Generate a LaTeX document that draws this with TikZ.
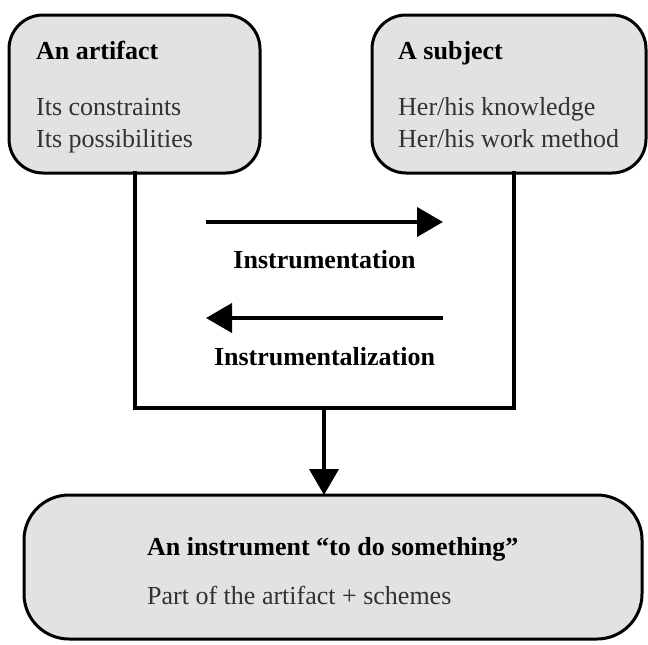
\documentclass[tikz,border=0pt]{standalone}
\usepackage{fontspec}
\setmainfont{Liberation Serif}
\usetikzlibrary{arrows.meta}
\definecolor{boxfill}{RGB}{226,226,226}
\definecolor{inktext}{RGB}{50,50,50}
\begin{document}
\begin{tikzpicture}[x=1pt,y=-1pt,
  panel/.style={draw=black, line width=3pt, fill=boxfill, rounded corners=#1,
    inner sep=0pt, outer sep=0pt},
  panel/.default=34pt,
  head/.style={anchor=base west, inner sep=0pt, font=\fontsize{26}{32}\selectfont\bfseries},
  body/.style={anchor=base west, inner sep=0pt, text=inktext,
    font=\fontsize{26}{32}\selectfont},
  label/.style={anchor=base, inner sep=0pt, font=\fontsize{26}{32}\selectfont\bfseries},
  link/.style={line width=4pt},
  bigarrow/.style={line width=4pt, -{Triangle[length=26pt,width=29pt]}}
]
\useasboundingbox (0,0) rectangle (648,645);

% upper boxes
\node[panel, minimum width=251pt, minimum height=158pt] (artifact) at (134.5,94) {};
\node[panel, minimum width=274pt, minimum height=158pt] (subject) at (509,94) {};
% lower box
\node[panel=45pt, minimum width=618pt, minimum height=144pt] (instrument) at (333,567) {};

% texts of the artifact box
\node[head] (artTitle) at (36,59) {An artifact};
\node[body] (artC) at (36,115) {Its constraints};
\node[body] (artP) at (36,147) {Its possibilities};

% texts of the subject box
\node[head] (subTitle) at (398,59) {A subject};
\node[body] (subK) at (398,115) {Her/his knowledge};
\node[body] (subW) at (398,147) {Her/his work method};

% texts of the instrument box
\node[head] (insTitle) at (147,555) {An instrument “to do something”};
\node[body] (insP) at (147,604) {Part of the artifact + schemes};

% frame joining both upper boxes
\coordinate (cornerR) at (514,408);
\coordinate (joint) at (324,408);
\draw[link, line cap=rect] (artifact.south) |- (cornerR) -- (cornerR |- subject.south);

% the two processes
\coordinate (aL) at (206,222);
\coordinate (aR) at (443,222);
\coordinate (bL) at (206,318);
\coordinate (bR) at (443,318);
\draw[bigarrow] (aL) -- (aR);
\node[label] (lblA) at (324.5,268) {Instrumentation};
\draw[bigarrow] (bR) -- (bL);
\node[label] (lblB) at (324.5,365) {Instrumentalization};

% result
\draw[bigarrow] (joint) -- (joint |- instrument.north);
\end{tikzpicture}
\end{document}
